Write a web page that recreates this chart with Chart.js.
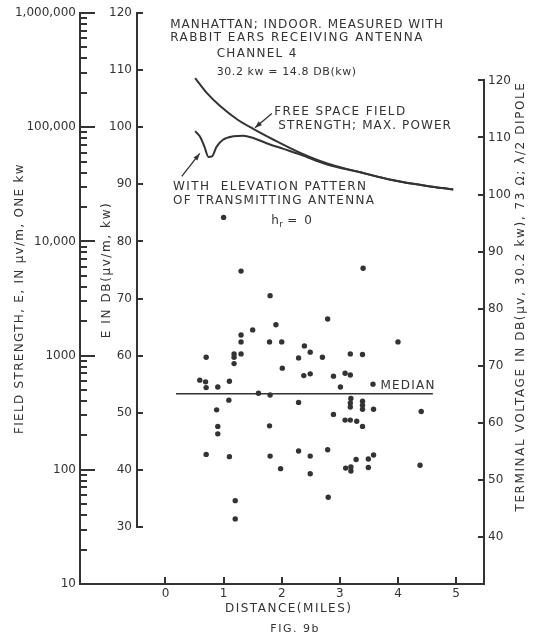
<!DOCTYPE html>
<html>
<head>
<meta charset="utf-8">
<title>Fig. 9b</title>
<script src="https://cdn.jsdelivr.net/npm/chart.js@4.4.1/dist/chart.umd.min.js"></script>
<style>
  html, body { margin: 0; padding: 0; background: #fff; }
  canvas { display: block; }
</style>
</head>
<body>
<canvas id="fig" width="534" height="639"></canvas>
<script>
// measured field, Manhattan indoor, channel 4 (miles, dB above 1 uV/m for one kw)
const distanceMiles = [
  1.00, 1.30, 1.80, 3.40, 2.79, 1.50, 1.90, 1.30, 1.30, 1.79, 2.00, 4.00,
  0.70, 1.18, 1.18, 1.30, 1.18, 2.39, 2.49, 2.29, 2.70, 3.18, 3.39,
  2.01, 2.38, 2.49, 2.89, 3.09, 3.18, 3.01, 3.57,
  0.59, 0.69, 0.70, 0.90, 1.10, 1.60, 1.80, 1.09, 2.29, 0.88, 2.89,
  3.19, 3.18, 3.18, 3.39, 3.39, 3.39, 3.58, 4.40,
  3.09, 3.18, 3.29, 3.39, 0.90, 0.90, 1.79,
  0.70, 1.10, 1.80, 2.29, 2.49, 2.79, 1.98, 2.49, 3.10, 3.19, 3.19, 3.28, 3.49, 3.58, 3.49, 4.38,
  1.20, 1.20, 2.80
];
const fieldDb = [
  84.2, 74.8, 70.5, 75.3, 66.4, 64.5, 65.4, 63.6, 62.4, 62.4, 62.4, 62.4,
  59.7, 60.3, 59.7, 60.3, 58.6, 61.7, 60.6, 59.6, 59.7, 60.3, 60.2,
  57.8, 56.5, 56.8, 56.4, 56.9, 56.6, 54.5, 55.0,
  55.7, 55.4, 54.4, 54.5, 55.5, 53.4, 53.1, 52.2, 51.8, 50.5, 49.7,
  52.5, 51.7, 51.0, 52.0, 51.3, 50.6, 50.6, 50.2,
  48.7, 48.7, 48.5, 47.6, 47.6, 46.3, 47.7,
  42.7, 42.3, 42.4, 43.3, 42.4, 43.5, 40.2, 39.3, 40.3, 40.5, 39.8, 41.8, 41.9, 42.6, 40.4, 40.8,
  34.6, 31.4, 35.2
];

// free space field strength, max. power
const freeSpaceMiles = [0.51, 0.71, 0.94, 1.23, 1.51, 1.86, 2.32, 2.77, 3.35, 3.92, 4.50, 4.95];
const freeSpaceDb = [108.6, 106.0, 103.7, 101.4, 99.7, 97.8, 95.5, 93.7, 92.1, 90.7, 89.7, 89.1];

// same, with elevation pattern of transmitting antenna
const elevationMiles = [0.51, 0.59, 0.67, 0.74, 0.80, 0.88, 0.99, 1.17, 1.34, 1.51, 1.74, 2.03, 2.32, 2.77, 3.35, 3.92, 4.50, 4.95];
const elevationDb = [99.3, 98.4, 96.6, 94.8, 94.9, 96.6, 97.8, 98.4, 98.5, 98.1, 97.2, 96.2, 95.2, 93.5, 92.1, 90.7, 89.7, 89.1];

const medianMiles = [0.18, 4.60];
const medianDb = 53.3;

const distanceTicks = [0, 1, 2, 3, 4, 5];
const dbTicks = [30, 40, 50, 60, 70, 80, 90, 100, 110, 120];
const terminalTicks = [40, 50, 60, 70, 80, 90, 100, 110, 120];
const fieldTicks = [10, 100, 1000, 10000, 100000, 1000000];
const fieldTickLabels = ['10', '100', '1000', '10,000', '100,000', '1,000,000'];
const fieldMinorSteps = [2, 3, 4, 5, 6, 7, 8, 9];
const terminalOffsetDb = 11.8; // terminal voltage minus field, dB

const INK = '#333';
const FONT = '"DejaVu Sans", sans-serif';

const pairs = (xs, ys) => xs.map((x, i) => ({ x, y: ys[i] }));
const tickFont = { family: FONT, size: 12 };
const setTicks = list => scale => { scale.ticks = list.map(value => ({ value })); };

function drawText(ctx, str, x, y, opt = {}) {
  const { size = 12, spacing = 1, align = 'left', base = 'alphabetic', rotate = 0 } = opt;
  ctx.save();
  ctx.translate(x, y);
  if (rotate) ctx.rotate(rotate);
  ctx.font = size + 'px ' + FONT;
  ctx.letterSpacing = spacing + 'px';
  ctx.textAlign = align;
  ctx.textBaseline = base;
  ctx.fillText(str, 0, 0);
  ctx.restore();
}

// one axis = one stroked path: spine plus its tick marks
function axisPath(ctx, spine, ticks) {
  ctx.lineWidth = 2;
  ctx.lineCap = 'square';
  ctx.beginPath();
  ctx.moveTo(spine[0], spine[1]);
  ctx.lineTo(spine[2], spine[3]);
  for (const t of ticks) {
    ctx.moveTo(t[0], t[1]);
    ctx.lineTo(t[2], t[3]);
  }
  ctx.stroke();
}

function arrow(ctx, x1, y1, x2, y2) {
  ctx.lineWidth = 1.3;
  ctx.lineCap = 'butt';
  ctx.beginPath();
  ctx.moveTo(x1, y1);
  ctx.lineTo(x2, y2);
  ctx.stroke();
  const a = Math.atan2(y2 - y1, x2 - x1);
  ctx.beginPath();
  ctx.moveTo(x2, y2);
  ctx.lineTo(x2 - 7 * Math.cos(a) + 2.5 * Math.sin(a), y2 - 7 * Math.sin(a) - 2.5 * Math.cos(a));
  ctx.lineTo(x2 - 7 * Math.cos(a) - 2.5 * Math.sin(a), y2 - 7 * Math.sin(a) + 2.5 * Math.cos(a));
  ctx.closePath();
  ctx.fill();
}

// axis lines with inward ticks
const axes = {
  id: 'axes',
  afterDatasetsDraw(chart) {
    const { ctx, chartArea: area, scales } = chart;
    const { x, y, field, tv } = scales;
    const r = Math.round;
    ctx.save();
    ctx.strokeStyle = INK;

    const fx = r(field.right);
    const fieldMarks = [];
    for (const d of fieldTicks) {
      const p = r(field.getPixelForValue(d));
      fieldMarks.push([fx, p, fx + 14, p]);
      if (d < fieldTicks[fieldTicks.length - 1]) {
        for (const k of fieldMinorSteps) {
          const q = r(field.getPixelForValue(d * k));
          fieldMarks.push([fx, q, fx + 6, q]);
        }
      }
    }
    axisPath(ctx, [fx, r(area.top), fx, r(area.bottom)], fieldMarks);

    const by = r(area.bottom);
    axisPath(ctx, [fx, by, r(area.right), by],
      distanceTicks.map(v => { const p = r(x.getPixelForValue(v)); return [p, by - 6, p, by]; }));

    const dx = r(y.right);
    axisPath(ctx, [dx, r(y.getPixelForValue(dbTicks[dbTicks.length - 1])), dx, r(y.getPixelForValue(dbTicks[0]))],
      dbTicks.map(v => { const p = r(y.getPixelForValue(v)); return [dx, p, dx + 5, p]; }));

    const tx = r(tv.left);
    axisPath(ctx, [tx, r(tv.getPixelForValue(terminalTicks[terminalTicks.length - 1])), tx, by],
      terminalTicks.map(v => { const p = r(tv.getPixelForValue(v)); return [tx - 5, p, tx, p]; }));

    ctx.restore();
  }
};

// titles and notes
const annotate = {
  id: 'annotate',
  afterDraw(chart) {
    const { ctx, chartArea: area, scales } = chart;
    const { x, y, tv } = scales;
    const px = v => x.getPixelForValue(v);
    const py = v => y.getPixelForValue(v);
    ctx.save();
    ctx.strokeStyle = INK;
    ctx.fillStyle = INK;

    const midY = (area.top + area.bottom) / 2;
    drawText(ctx, 'FIELD STRENGTH, E, IN \u03bcv/m, ONE kw', 20, midY,
      { spacing: 1.3, align: 'center', base: 'middle', rotate: -Math.PI / 2 });
    drawText(ctx, 'E IN DB(\u03bcv/m, kw)', y.left + 27, (py(dbTicks[0]) + py(dbTicks[dbTicks.length - 1])) / 2,
      { spacing: 1.6, align: 'center', base: 'middle', rotate: -Math.PI / 2 });
    drawText(ctx, 'TERMINAL VOLTAGE IN DB(\u03bcv, 30.2 kw), 73 \u03a9; \u03bb/2 DIPOLE', tv.left + 37, midY - 2,
      { spacing: 1.6, align: 'center', base: 'middle', rotate: -Math.PI / 2 });
    drawText(ctx, 'DISTANCE(MILES)', px(2.12), area.bottom + 24.5, { spacing: 1.5, align: 'center', base: 'middle' });
    drawText(ctx, 'FIG. 9b', px(2.23), area.bottom + 45, { size: 11, spacing: 1.5, align: 'center', base: 'middle' });

    drawText(ctx, 'MANHATTAN; INDOOR. MEASURED WITH', px(0.08), py(117.4));
    drawText(ctx, 'RABBIT EARS RECEIVING ANTENNA', px(0.08), py(115.15), { spacing: 1.5 });
    drawText(ctx, 'CHANNEL 4', px(0.88), py(112.35), { spacing: 1.3 });
    drawText(ctx, '30.2 kw = 14.8 DB(kw)', px(0.88), py(109.2), { size: 11, spacing: 0.6 });
    drawText(ctx, 'FREE SPACE FIELD', px(1.87), py(102.2), { spacing: 1.4 });
    drawText(ctx, 'STRENGTH; MAX. POWER', px(1.94), py(99.75), { spacing: 1.1 });
    drawText(ctx, 'WITH  ELEVATION PATTERN', px(0.13), py(89.05), { spacing: 1.4 });
    drawText(ctx, 'OF TRANSMITTING ANTENNA', px(0.13), py(86.6), { spacing: 1.3 });
    drawText(ctx, 'MEDIAN', px(3.70), py(54.2), { spacing: 1.2 });

    const hx = px(1.82), hy = py(83.1);
    drawText(ctx, 'h', hx, hy, { spacing: 0 });
    drawText(ctx, 'r', hx + 8, hy + 3, { size: 9, spacing: 0 });
    drawText(ctx, '= 0', hx + 16, hy, { spacing: 1.5 });

    arrow(ctx, px(1.83), py(102.4), px(1.54), py(99.9));
    arrow(ctx, px(0.28), py(91.4), px(0.59), py(95.4));

    ctx.restore();
  }
};

new Chart(document.getElementById('fig'), {
  type: 'scatter',
  data: {
    datasets: [
      {
        type: 'line',
        data: pairs(freeSpaceMiles, freeSpaceDb),
        borderColor: INK,
        borderWidth: 2,
        pointRadius: 0,
        cubicInterpolationMode: 'monotone'
      },
      {
        type: 'line',
        data: pairs(elevationMiles, elevationDb),
        borderColor: INK,
        borderWidth: 2,
        pointRadius: 0,
        cubicInterpolationMode: 'monotone'
      },
      {
        type: 'line',
        data: medianMiles.map(m => ({ x: m, y: medianDb })),
        borderColor: INK,
        borderWidth: 1.5,
        pointRadius: 0
      },
      {
        data: pairs(distanceMiles, fieldDb),
        pointRadius: 2.7,
        pointBackgroundColor: INK,
        pointBorderWidth: 0
      }
    ]
  },
  options: {
    responsive: false,
    animation: false,
    events: [],
    layout: { padding: { top: 13, left: 0, right: 0, bottom: 0 } },
    plugins: { legend: { display: false }, tooltip: { enabled: false } },
    scales: {
      x: {
        type: 'linear',
        position: 'bottom',
        min: -0.49,
        max: 5.48,
        grid: { display: false, drawTicks: false },
        border: { display: false },
        ticks: { font: tickFont, color: INK, padding: 3 },
        afterBuildTicks: setTicks(distanceTicks),
        afterFit: s => { s.height = 55; }
      },
      y: {
        type: 'linear',
        position: 'left',
        weight: 0,
        min: 20,
        max: 120,
        grid: { display: false, drawTicks: false },
        border: { display: false },
        ticks: { font: tickFont, color: INK, padding: 5 },
        afterBuildTicks: setTicks(dbTicks),
        afterFit: s => { s.width = 57; }
      },
      field: {
        type: 'logarithmic',
        position: 'left',
        weight: 1,
        min: 10,
        max: 1000000,
        grid: { display: false, drawTicks: false },
        border: { display: false },
        ticks: { font: tickFont, color: INK, padding: 4 },
        afterBuildTicks: setTicks(fieldTicks),
        afterTickToLabelConversion: s => {
          s.ticks.forEach((t, i) => { t.label = fieldTickLabels[i]; });
        },
        afterFit: s => { s.width = 80; }
      },
      tv: {
        type: 'linear',
        position: 'right',
        min: 20 + terminalOffsetDb,
        max: 120 + terminalOffsetDb,
        grid: { display: false, drawTicks: false },
        border: { display: false },
        ticks: { font: tickFont, color: INK, padding: 4 },
        afterBuildTicks: setTicks(terminalTicks),
        afterFit: s => { s.width = 50; }
      }
    }
  },
  plugins: [axes, annotate]
});
</script>
</body>
</html>
